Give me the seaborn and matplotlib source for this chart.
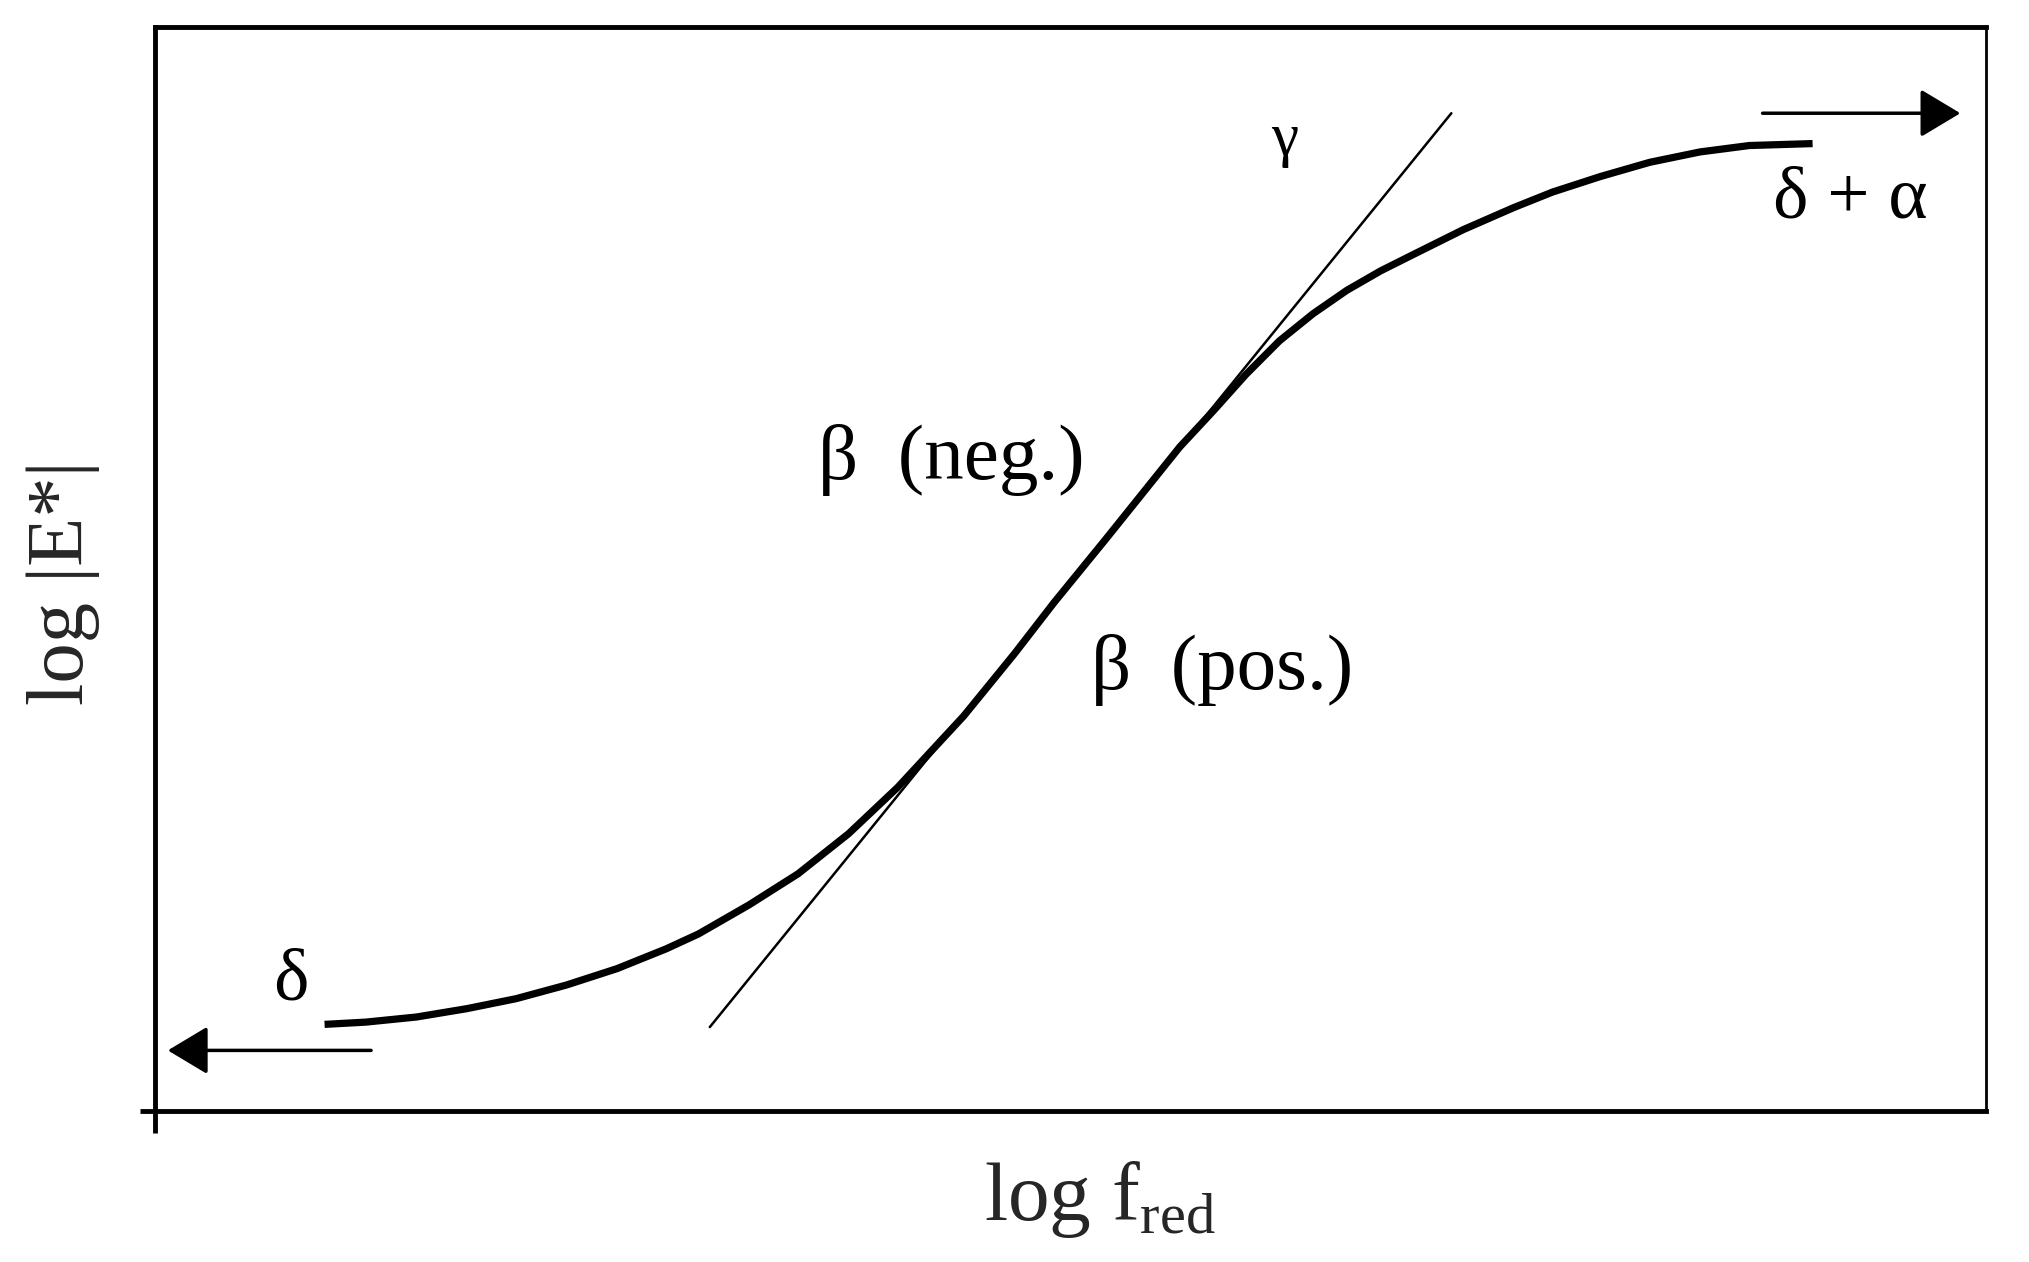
import numpy as np
import pandas as pd
import matplotlib
matplotlib.use("Agg")
import matplotlib.pyplot as plt
import seaborn as sns

# Данные кривой (master curve), координаты 0..10
curve_x = [0.926, 1.152, 1.428, 1.703, 1.972, 2.247, 2.523, 2.792, 2.968,
           3.244, 3.512, 3.788, 4.057, 4.417, 4.693, 4.912, 5.194, 5.597,
           5.781, 5.958, 6.141, 6.325, 6.509, 6.693, 6.869, 7.145, 7.420,
           7.633, 7.894, 8.163, 8.438, 8.707, 9.053]
curve_y = [0.795, 0.816, 0.863, 0.940, 1.032, 1.158, 1.309, 1.492, 1.629,
           1.897, 2.184, 2.554, 2.983, 3.640, 4.212, 4.690, 5.274, 6.122,
           6.456, 6.790, 7.100, 7.351, 7.566, 7.745, 7.894, 8.126, 8.329,
           8.473, 8.616, 8.747, 8.843, 8.902, 8.920]

# Касательная в точке перегиба (gamma)
tangent_x = [3.03, 7.08]
tangent_y = [0.77, 9.20]

# Стрелки: (хвост, голова)
arrow_left = ((1.18, 0.555), (0.07, 0.555))
arrow_right = ((8.78, 9.20), (9.86, 9.20))

# Подписи: текст, x, y
labels = ["γ", "δ + α", "β  (neg.)", "β  (pos.)", "δ"]
label_x = [6.17, 9.26, 4.35, 5.83, 0.74]
label_y = [8.95, 8.40, 6.00, 4.06, 1.19]
label_size = [44, 54, 57, 57, 54]

sns.set_theme(style="white")
plt.rcParams['font.family'] = ['Liberation Serif', 'DejaVu Serif']
plt.rcParams['mathtext.fontset'] = 'custom'
plt.rcParams['mathtext.rm'] = 'Liberation Serif'

fig = plt.figure(figsize=(20.29, 12.62), dpi=100)
ax = fig.add_axes([0.0764, 0.120, 0.9024, 0.859])

df_curve = pd.DataFrame({"x": curve_x, "y": curve_y})
df_tan = pd.DataFrame({"x": tangent_x, "y": tangent_y})

sns.lineplot(data=df_curve, x="x", y="y", ax=ax, color="black", lw=5.2,
             sort=False, estimator=None, solid_joinstyle="round",
             solid_capstyle="butt")
sns.lineplot(data=df_tan, x="x", y="y", ax=ax, color="black", lw=1.8,
             sort=False, estimator=None)

for tail, head in (arrow_left, arrow_right):
    ax.annotate("", xy=head, xytext=tail,
                arrowprops=dict(arrowstyle="-|>,head_length=2.5,head_width=1.5",
                                mutation_scale=10, color="black", lw=2.5,
                                shrinkA=0, shrinkB=0))

for txt, x, y, s in zip(labels, label_x, label_y, label_size):
    ax.text(x, y, txt, fontsize=s, ha="center", va="center", color="black")

ax.set_xlim(0, 10)
ax.set_ylim(0, 10)

# Рамка
for side in ["left", "top", "bottom"]:
    ax.spines[side].set_linewidth(3.5)
    ax.spines[side].set_color("black")
ax.spines["right"].set_linewidth(2.0)
ax.spines["right"].set_color("black")

ax.set_xticks([0])
ax.set_yticks([0])
ax.set_xticklabels([])
ax.set_yticklabels([])
ax.tick_params(axis="x", direction="out", length=16, width=3.5, color="black", bottom=True)
ax.tick_params(axis="y", direction="out", length=11, width=3.5, color="black", left=True)

ax.set_xlabel(r"log f$_{\mathrm{red}}$", fontsize=60)
ax.xaxis.set_label_coords(0.516, -0.045)
ax.set_ylabel("log |E*|", fontsize=58)
ax.yaxis.set_label_coords(-0.03, 0.487)

fig.savefig("out.png", dpi=100, facecolor="white")
